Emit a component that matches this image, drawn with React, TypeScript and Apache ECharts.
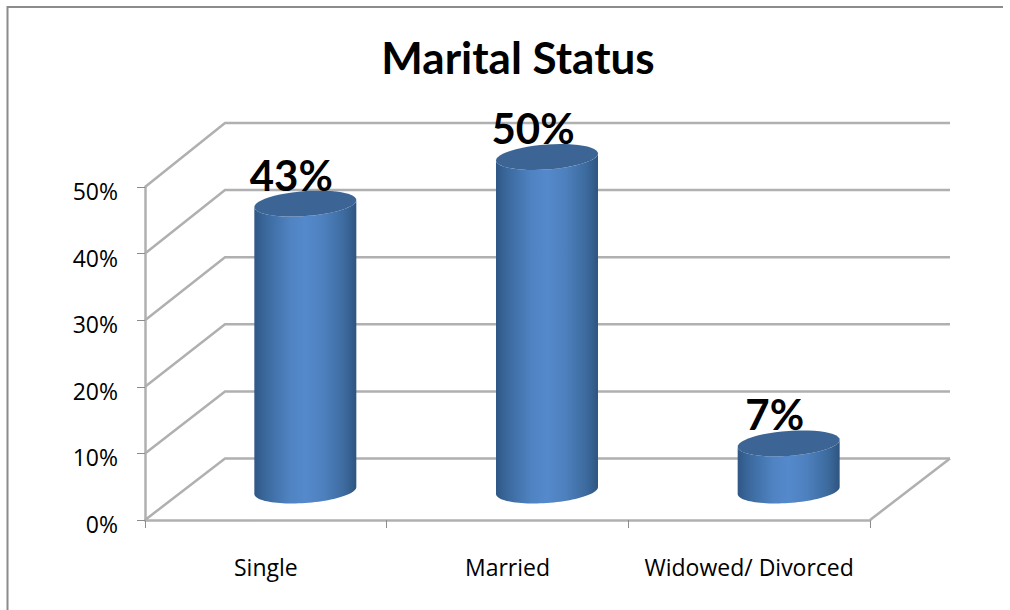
import React, { useEffect, useRef } from "react";
import * as echarts from "echarts";

const categories = ["Single", "Married", "Widowed/ Divorced"];
const values = [43, 50, 7];
const yTicks = [0, 10, 20, 30, 40, 50];
const titleText = "Marital Status";

const FONT = "Lato";
const AXIS_FONT = "Open Sans";
const GRID_COLOR = "#b0b0b0";
const DEPTH_X = 80;
const barHalf = 51;

const backY = (y: number, v: number) => y - 61.5 - v * 0.05;

const gridItem = (params: any, api: any) => {
  const v = api.value(0);
  const cs = params.coordSys;
  const y = api.coord([0, v])[1];
  const by = backY(y, v);
  const bx = cs.x + DEPTH_X;
  const children: any[] = [
    {
      type: "polyline",
      shape: { points: [[cs.x, y], [bx, by], [cs.x + cs.width + DEPTH_X, by]] },
      style: { fill: "none", stroke: GRID_COLOR, lineWidth: 2.5 },
    },
  ];
  if (v === 0) {
    children.push({
      type: "line",
      shape: { x1: cs.x + cs.width, y1: y, x2: cs.x + cs.width + DEPTH_X, y2: by },
      style: { stroke: GRID_COLOR, lineWidth: 2.5 },
    });
  }
  return { type: "group", children };
};

const ellipsePath = (cx: number, cy: number, from: number, to: number, start: boolean) => {
  const n = 48;
  const pts: string[] = [];
  for (let i = 0; i <= n; i++) {
    const t = from + ((to - from) * i) / n;
    const x = cx + barHalf * Math.cos(t);
    const y = cy - 3.5 * Math.cos(t) + 12.5 * Math.sin(t);
    pts.push((i === 0 && start ? "M" : "L") + x.toFixed(2) + " " + y.toFixed(2));
  }
  return pts.join(" ");
};

const cylinderItem = (params: any, api: any) => {
  const cat = api.value(0);
  const val = api.value(1);
  const base = api.coord([cat, 0]);
  const top = api.coord([cat, val]);
  const cx = base[0] + 39.5;
  const by = base[1] - 29.5;
  const ty = top[1] - 30;
  const sideFill = new echarts.graphic.LinearGradient(0, 0, 1, 0, [
    { offset: 0, color: "#2f5786" },
    { offset: 0.12, color: "#3c6a9f" },
    { offset: 0.35, color: "#4f83c2" },
    { offset: 0.5, color: "#5489cc" },
    { offset: 0.68, color: "#4d80bd" },
    { offset: 0.88, color: "#3d6b9f" },
    { offset: 1, color: "#2f5580" },
  ]);
  const side =
    ellipsePath(cx, ty, Math.PI, 0, true) +
    " " +
    ellipsePath(cx, by, 0, Math.PI, false) +
    " Z";
  const cap = ellipsePath(cx, ty, 0, Math.PI * 2, true) + " Z";
  return {
    type: "group",
    children: [
      { type: "path", shape: { pathData: side }, style: { fill: sideFill } },
      { type: "path", shape: { pathData: cap }, style: { fill: "#3c6595" } },
      {
        type: "text",
        style: {
          x: cx - 14,
          y: ty - 8,
          text: val + "%",
          fill: "#000",
          font: `bold 42px ${FONT}`,
          textAlign: "center",
          textVerticalAlign: "bottom",
        },
        z2: 10,
      },
    ],
  };
};

export default function App() {
  const ref = useRef<HTMLDivElement>(null);
  useEffect(() => {
    document.body.style.margin = "0";
    const chart = echarts.init(ref.current!, undefined, { renderer: "svg" });
    chart.setOption({
      animation: false,
      backgroundColor: "#fff",
      title: {
        text: titleText,
        left: 513,
        top: 30,
        textAlign: "center",
        textStyle: { fontFamily: FONT, fontWeight: "bold", fontSize: 44, color: "#000" },
      },
      graphic: [
        {
          type: "polyline",
          shape: { points: [[7.5, 610], [7.5, 7], [1003, 7]] },
          style: { fill: "none", stroke: "#8c8c8c", lineWidth: 2 },
        },
      ],
      grid: { left: 145, top: 187, width: 725, height: 333 },
      xAxis: {
        type: "category",
        data: categories,
        axisLine: { lineStyle: { color: GRID_COLOR, width: 2.5 } },
        axisTick: { show: true, length: 8, lineStyle: { color: "#8c8c8c", width: 1 } },
        axisLabel: { color: "#000", fontFamily: AXIS_FONT, fontSize: 23, margin: 35, interval: 0 },
      },
      yAxis: {
        type: "value",
        min: 0,
        max: 50,
        interval: 10,
        axisLine: { show: true, lineStyle: { color: GRID_COLOR, width: 2.5 } },
        axisTick: { show: true, length: 8, lineStyle: { color: "#8c8c8c", width: 1 } },
        splitLine: { show: false },
        axisLabel: {
          margin: 27,
          formatter: "{a|{value}%}",
          rich: {
            a: { color: "#000", fontFamily: AXIS_FONT, fontSize: 23, padding: [8, 0, 0, 0] },
          },
        },
      },
      series: [
        {
          type: "custom",
          renderItem: gridItem,
          data: yTicks.map((v) => [v]),
          encode: { y: 0 },
          silent: true,
          z: 1,
        },
        {
          type: "custom",
          renderItem: cylinderItem,
          data: values.map((v, i) => [i, v]),
          encode: { x: 0, y: 1 },
          silent: true,
          z: 3,
        },
      ],
    });
    return () => chart.dispose();
  }, []);
  return <div ref={ref} style={{ position: "fixed", left: 0, top: 0, width: 1010, height: 610 }} />;
}
